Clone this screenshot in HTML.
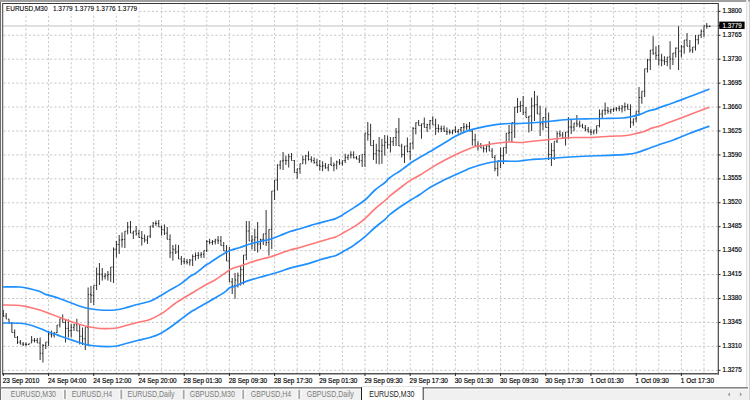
<!DOCTYPE html>
<html><head><meta charset="utf-8"><style>
html,body{margin:0;padding:0;background:#fff;overflow:hidden}
svg{display:block}
.t{font-family:"Liberation Sans",sans-serif;font-size:6.45px;fill:#000;stroke:#000;stroke-width:0.18px}
.tab{font-family:"Liberation Sans",sans-serif;font-size:8.15px;fill:#7c7c7c}
</style></head><body>
<svg width="750" height="400" viewBox="0 0 750 400">
<rect x="0" y="0" width="750" height="400" fill="#fff"/>
<path d="M3.5 11.35H718.0 M3.5 35.28H718.0 M3.5 59.21H718.0 M3.5 83.14H718.0 M3.5 107.07H718.0 M3.5 131H718.0 M3.5 154.93H718.0 M3.5 178.86H718.0 M3.5 202.79H718.0 M3.5 226.72H718.0 M3.5 250.65H718.0 M3.5 274.58H718.0 M3.5 298.51H718.0 M3.5 322.44H718.0 M3.5 346.37H718.0 M3.5 370.3H718.0" stroke="#c6c6c6" stroke-width="1" stroke-dasharray="2.1 2.14" fill="none"/>
<path d="M25.98 4V373.0 M48.58 4V373.0 M71.18 4V373.0 M93.78 4V373.0 M116.38 4V373.0 M138.98 4V373.0 M161.58 4V373.0 M184.18 4V373.0 M206.78 4V373.0 M229.38 4V373.0 M251.98 4V373.0 M274.58 4V373.0 M297.18 4V373.0 M319.78 4V373.0 M342.38 4V373.0 M364.98 4V373.0 M387.58 4V373.0 M410.18 4V373.0 M432.78 4V373.0 M455.38 4V373.0 M477.98 4V373.0 M500.58 4V373.0 M523.18 4V373.0 M545.78 4V373.0 M568.38 4V373.0 M590.98 4V373.0 M613.58 4V373.0 M636.18 4V373.0 M658.78 4V373.0 M681.38 4V373.0 M703.98 4V373.0" stroke="#c6c6c6" stroke-width="1" stroke-dasharray="2.1 2.14" stroke-dashoffset="1.05" fill="none"/>
<path d="M3.0 25.95H718.5" stroke="#d6d6d6" stroke-width="1.4" fill="none"/>
<path d="M3.38 310V317 M6.21 313V319 M9.03 319V323 M11.86 322V332.5 M14.68 329.4V337.5 M17.5 336V344 M20.33 340V344.4 M23.16 342V346 M25.98 342.5V346 M28.8 343.75V345 M31.63 336V343 M34.46 338V342.5 M37.28 338V343 M40.11 337.5V360 M42.93 344V362.5 M45.76 342V349 M48.58 331V346 M51.41 330.6V337.5 M54.23 332.5V337.5 M57.06 325V333 M59.88 318.75V327.5 M62.71 314.4V322.5 M65.53 319.4V342.5 M68.36 319.4V337.5 M71.18 323.75V337.5 M74 323.75V331 M76.83 318.75V331 M79.66 325V344.4 M82.48 327.5V345 M85.31 327.5V350 M88.13 287.5V345.6 M90.95 286V303 M93.78 285.5V305 M96.61 267.5V290 M99.43 263V285 M102.25 268V280.6 M105.08 273V279.4 M107.91 271V280.6 M110.73 267V282 M113.56 247.5V283 M116.38 241V257.5 M119.2 235V254 M122.03 232.5V247.5 M124.86 231V248 M127.68 222V234.4 M130.51 221V233 M133.33 231V239 M136.16 226V235.6 M138.98 230V237.5 M141.81 231V245.6 M144.63 234.4V242.5 M147.46 236V244 M150.28 226V238 M153.11 222V228 M155.93 220.6V226 M158.75 220V227 M161.58 225.6V235.6 M164.41 224.4V235 M167.23 227V239.4 M170.06 234.4V258 M172.88 245V260.6 M175.71 244.4V254 M178.53 245V259 M181.36 256V265 M184.18 258V264.4 M187 259V264.4 M189.83 259V265.6 M192.66 254.4V266 M195.48 252.5V260.6 M198.31 252V259 M201.13 252V258 M203.96 250.6V258 M206.78 240V252 M209.61 238.75V244.4 M212.43 240V245 M215.25 238.75V244.4 M218.08 236V244 M220.91 236V245.6 M223.73 242V251 M226.56 245V261 M229.38 247V282 M232.21 278V294 M235.03 273V298.75 M237.86 272.5V287.5 M240.68 266V285.6 M243.51 255V284.4 M246.33 221V260 M249.16 221V241 M251.98 235V249.4 M254.81 228.75V251 M257.63 222V252.5 M260.45 238.75V249.4 M263.28 233.75V245 M266.11 210V246 M268.93 229.4V255.6 M271.75 191V249 M274.58 180V200 M277.41 164.4V190.6 M280.23 160.6V169.4 M283.06 152V170 M285.88 155.6V165 M288.71 153.75V167.5 M291.53 153V160.6 M294.36 160V172.5 M297.18 168.75V178.75 M300 163.75V173.75 M302.83 155.6V163.75 M305.66 155V164.4 M308.48 151.25V160.6 M311.31 156.25V162.5 M314.13 157.5V163.75 M316.96 158.75V166.25 M319.78 160V170.6 M322.61 161.25V171.25 M325.43 163V168.75 M328.25 164.4V171.25 M331.08 156.9V165.6 M333.91 162.5V171.25 M336.73 160.6V169.4 M339.56 159V165 M342.38 160.6V165.6 M345.21 153.75V163 M348.03 155V160 M350.86 151.25V158.5 M353.68 151.25V158.5 M356.5 156V159.4 M359.33 155V163 M362.16 154.4V167 M364.98 133V167 M367.81 122V140.6 M370.63 123.75V145.6 M373.46 140V160 M376.28 143.75V163.75 M379.11 137V164.4 M381.93 138.75V163.75 M384.75 135V155.6 M387.58 135.6V148.75 M390.41 137V152.5 M393.23 137.5V146 M396.06 128V146 M398.88 118V146 M401.71 143.75V157.5 M404.53 146V163 M407.36 137.5V152.5 M410.18 143V160 M413 127V149.4 M415.83 122.5V134.4 M418.66 120V125.6 M421.48 123.75V138.75 M424.31 117.5V127.5 M427.13 123.75V132 M429.96 120V129.4 M432.78 116.25V125 M435.61 118.75V135 M438.43 124.4V132.5 M441.25 125.6V132 M444.08 125.6V132 M446.91 127.5V135 M449.73 129.4V134.4 M452.56 130V134.4 M455.38 126.25V133 M458.21 129.4V133.75 M461.03 127V132.5 M463.86 123V132 M466.68 123.75V130 M469.51 122V131.25 M472.33 130V145.6 M475.16 133.75V146 M477.98 141.25V150.6 M480.81 143V148 M483.63 145V152.5 M486.46 145V152.5 M489.28 141.25V151 M492.11 148V157.5 M494.93 155V171.25 M497.76 160.6V176.25 M500.58 147.5V168 M503.41 147.5V164 M506.23 133V153.75 M509.06 125V141.25 M511.88 122.5V142.5 M514.71 107V138 M517.53 98V113 M520.36 101V112 M523.18 96V115 M526 107V117.5 M528.83 116V132.5 M531.65 97.5V131 M534.48 91V121 M537.31 95.6V114 M540.13 105.6V136 M542.96 117.5V130 M545.78 107.5V127.5 M548.61 112.5V160 M551.43 143V166 M554.25 141.25V160 M557.08 131.25V143 M559.91 130.6V137 M562.73 132V138 M565.56 132V145.6 M568.38 117V138.75 M571.21 120V134 M574.03 123V131.25 M576.86 115V127 M579.68 120.6V127.5 M582.5 123.75V128 M585.33 125V131.25 M588.16 127V132.5 M590.98 128.75V135 M593.81 130V134.4 M596.63 125.6V133.75 M599.46 109.4V127.5 M602.28 110V118 M605.11 102.5V115 M607.93 107V113.75 M610.75 108.75V113.75 M613.58 107.5V112 M616.41 107V111.25 M619.23 105.6V111.25 M622.06 105V112.5 M624.88 102.5V111.25 M627.71 103.75V109.4 M630.53 104.4V128 M633.36 118.75V125.6 M636.18 111.25V122 M639 87V115.6 M641.83 91.25V103.75 M644.66 68.75V97 M647.48 58.75V72.5 M650.31 50V70 M653.13 36.25V55 M655.96 46.25V60 M658.78 45V65.6 M661.61 53.75V66.25 M664.43 56.25V65 M667.25 57V66.25 M670.08 41.25V69.4 M672.91 53V65 M675.73 47.5V57.5 M678.56 26.25V70 M681.38 45V57.5 M684.21 40V53.75 M687.03 33V46.25 M689.86 40V52.5 M692.68 47V53 M695.5 35V50.6 M698.33 35V44.4 M701.16 29.4V38 M703.98 25.6V37 M706.81 23V28.75 M709.63 25.6V27" stroke="#000" stroke-width="0.9" fill="none" stroke-opacity="0.9"/>
<path d="M2.38 313.5H3.38M3.38 316H4.38 M5.21 316H6.21M6.21 319H7.21 M8.03 319H9.03M9.03 323H10.03 M10.86 323H11.86M11.86 332.5H12.86 M13.68 332.5H14.68M14.68 337.5H15.68 M16.5 337.5H17.5M17.5 342.2H18.5 M19.33 342.2H20.33M20.33 344H21.33 M22.16 344H23.16M23.16 344.25H24.16 M24.98 344.25H25.98M25.98 344.38H26.98 M27.8 344.38H28.8M28.8 343.75H29.8 M30.63 343H31.63M31.63 340.25H32.63 M33.46 340.25H34.46M34.46 340.5H35.46 M36.28 340.5H37.28M37.28 343H38.28 M39.11 343H40.11M40.11 353.25H41.11 M41.93 353.25H42.93M42.93 345.5H43.93 M44.76 345.5H45.76M45.76 342H46.76 M47.58 342H48.58M48.58 334.05H49.58 M50.41 334.05H51.41M51.41 335H52.41 M53.23 335H54.23M54.23 332.5H55.23 M56.06 332.5H57.06M57.06 325H58.06 M58.88 325H59.88M59.88 318.75H60.88 M61.71 318.75H62.71M62.71 322.5H63.71 M64.53 322.5H65.53M65.53 328.45H66.53 M67.36 328.45H68.36M68.36 330.62H69.36 M70.18 330.62H71.18M71.18 327.38H72.18 M73 327.38H74M74 324.88H75 M75.83 324.88H76.83M76.83 331H77.83 M78.66 331H79.66M79.66 336.25H80.66 M81.48 336.25H82.48M82.48 338.75H83.48 M84.31 338.75H85.31M85.31 327.5H86.31 M87.13 327.5H88.13M88.13 294.5H89.13 M89.95 294.5H90.95M90.95 295.25H91.95 M92.78 295.25H93.78M93.78 285.5H94.78 M95.61 285.5H96.61M96.61 274H97.61 M98.43 274H99.43M99.43 274.3H100.43 M101.25 274.3H102.25M102.25 276.2H103.25 M104.08 276.2H105.08M105.08 275.8H106.08 M106.91 275.8H107.91M107.91 274.5H108.91 M109.73 274.5H110.73M110.73 267H111.73 M112.56 267H113.56M113.56 249.25H114.56 M115.38 249.25H116.38M116.38 244.5H117.38 M118.2 244.5H119.2M119.2 240H120.2 M121.03 240H122.03M122.03 239.5H123.03 M123.86 239.5H124.86M124.86 231H125.86 M126.68 231H127.68M127.68 227H128.68 M129.51 227H130.51M130.51 233H131.51 M132.33 233H133.33M133.33 231H134.33 M135.16 231H136.16M136.16 233.75H137.16 M137.98 233.75H138.98M138.98 237.5H139.98 M140.81 237.5H141.81M141.81 238.45H142.81 M143.63 238.45H144.63M144.63 240H145.63 M146.46 240H147.46M147.46 236H148.46 M149.28 236H150.28M150.28 226H151.28 M152.11 226H153.11M153.11 223.3H154.11 M154.93 223.3H155.93M155.93 223.5H156.93 M157.75 223.5H158.75M158.75 227H159.75 M160.58 227H161.58M161.58 229.7H162.58 M163.41 229.7H164.41M164.41 233.2H165.41 M166.23 233.2H167.23M167.23 239.4H168.23 M169.06 239.4H170.06M170.06 252.8H171.06 M171.88 252.8H172.88M172.88 249.2H173.88 M174.71 249.2H175.71M175.71 252H176.71 M177.53 252H178.53M178.53 259H179.53 M180.36 259H181.36M181.36 261.2H182.36 M183.18 261.2H184.18M184.18 261.7H185.18 M186 261.7H187M187 262.3H188 M188.83 262.3H189.83M189.83 260.2H190.83 M191.66 260.2H192.66M192.66 256.55H193.66 M194.48 256.55H195.48M195.48 255.5H196.48 M197.31 255.5H198.31M198.31 255H199.31 M200.13 255H201.13M201.13 254.3H202.13 M202.96 254.3H203.96M203.96 250.6H204.96 M205.78 250.6H206.78M206.78 241.57H207.78 M208.61 241.57H209.61M209.61 242.5H210.61 M211.43 242.5H212.43M212.43 241.57H213.43 M214.25 241.57H215.25M215.25 240H216.25 M217.08 240H218.08M218.08 240.8H219.08 M219.91 240.8H220.91M220.91 245.6H221.91 M222.73 245.6H223.73M223.73 251H224.73 M225.56 251H226.56M226.56 261H227.56 M228.38 261H229.38M229.38 282H230.38 M231.21 282H232.21M232.21 285.88H233.21 M234.03 285.88H235.03M235.03 280H236.03 M236.86 280H237.86M237.86 275.8H238.86 M239.68 275.8H240.68M240.68 269.7H241.68 M242.51 269.7H243.51M243.51 255H244.51 M245.33 255H246.33M246.33 231H247.33 M248.16 231H249.16M249.16 241H250.16 M250.98 241H251.98M251.98 239.88H252.98 M253.81 239.88H254.81M254.81 237.25H255.81 M256.63 237.25H257.63M257.63 244.07H258.63 M259.45 244.07H260.45M260.45 239.38H261.45 M262.28 239.38H263.28M263.28 233.75H264.28 M265.11 233.75H266.11M266.11 242.5H267.11 M267.93 242.5H268.93M268.93 229.4H269.93 M270.75 229.4H271.75M271.75 191H272.75 M273.58 191H274.58M274.58 180H275.58 M276.41 180H277.41M277.41 165H278.41 M279.23 165H280.23M280.23 161H281.23 M282.06 161H283.06M283.06 160.3H284.06 M284.88 160.3H285.88M285.88 160.62H286.88 M287.71 160.62H288.71M288.71 156.8H289.71 M290.53 156.8H291.53M291.53 160.6H292.53 M293.36 160.6H294.36M294.36 172.5H295.36 M296.18 172.5H297.18M297.18 168.75H298.18 M299 168.75H300M300 163.75H301 M301.83 163.75H302.83M302.83 159.7H303.83 M304.66 159.7H305.66M305.66 155.93H306.66 M307.48 155.93H308.48M308.48 159.38H309.48 M310.31 159.38H311.31M311.31 160.62H312.31 M313.13 160.62H314.13M314.13 162.5H315.13 M315.96 162.5H316.96M316.96 165.3H317.96 M318.78 165.3H319.78M319.78 166.25H320.78 M321.61 166.25H322.61M322.61 165.88H323.61 M324.43 165.88H325.43M325.43 167.82H326.43 M327.25 167.82H328.25M328.25 164.4H329.25 M330.08 164.4H331.08M331.08 165.6H332.08 M332.91 165.6H333.91M333.91 165H334.91 M335.73 165H336.73M336.73 162H337.73 M338.56 162H339.56M339.56 163.1H340.56 M341.38 163.1H342.38M342.38 160.6H343.38 M344.21 160.6H345.21M345.21 157.5H346.21 M347.03 157.5H348.03M348.03 155H349.03 M349.86 155H350.86M350.86 154.88H351.86 M352.68 154.88H353.68M353.68 157.7H354.68 M355.5 157.7H356.5M356.5 159H357.5 M358.33 159H359.33M359.33 160.7H360.33 M361.16 160.7H362.16M362.16 154.4H363.16 M363.98 154.4H364.98M364.98 133H365.98 M366.81 133H367.81M367.81 134.68H368.81 M369.63 134.68H370.63M370.63 145.6H371.63 M372.46 145.6H373.46M373.46 153.75H374.46 M375.28 153.75H376.28M376.28 150.7H377.28 M378.11 150.7H379.11M379.11 151.25H380.11 M380.93 151.25H381.93M381.93 145.3H382.93 M383.75 145.3H384.75M384.75 142.18H385.75 M386.58 142.18H387.58M387.58 144.75H388.58 M389.41 144.75H390.41M390.41 141.75H391.41 M392.23 141.75H393.23M393.23 137.5H394.23 M395.06 137.5H396.06M396.06 132H397.06 M397.88 132H398.88M398.88 146H399.88 M400.71 146H401.71M401.71 154.5H402.71 M403.53 154.5H404.53M404.53 146H405.53 M406.36 146H407.36M407.36 151.5H408.36 M409.18 151.5H410.18M410.18 143H411.18 M412 143H413M413 128.45H414 M414.83 128.45H415.83M415.83 122.8H416.83 M417.66 122.8H418.66M418.66 125.6H419.66 M420.48 125.6H421.48M421.48 123.75H422.48 M423.31 123.75H424.31M424.31 127.5H425.31 M426.13 127.5H427.13M427.13 124.7H428.13 M428.96 124.7H429.96M429.96 120.62H430.96 M431.78 120.62H432.78M432.78 125H433.78 M434.61 125H435.61M435.61 128.45H436.61 M437.43 128.45H438.43M438.43 128.8H439.43 M440.25 128.8H441.25M441.25 128.8H442.25 M443.08 128.8H444.08M444.08 131.25H445.08 M445.91 131.25H446.91M446.91 131.9H447.91 M448.73 131.9H449.73M449.73 132.2H450.73 M451.56 132.2H452.56M452.56 130H453.56 M454.38 130H455.38M455.38 131.57H456.38 M457.21 131.57H458.21M458.21 129.75H459.21 M460.03 129.75H461.03M461.03 127.5H462.03 M462.86 127.5H463.86M463.86 126.88H464.86 M465.68 126.88H466.68M466.68 126.62H467.68 M468.51 126.62H469.51M469.51 131.25H470.51 M471.33 131.25H472.33M472.33 139.88H473.33 M474.16 139.88H475.16M475.16 145.93H476.16 M476.98 145.93H477.98M477.98 145.5H478.98 M479.81 145.5H480.81M480.81 148H481.81 M482.63 148H483.63M483.63 148.75H484.63 M485.46 148.75H486.46M486.46 146.12H487.46 M488.28 146.12H489.28M489.28 151H490.28 M491.11 151H492.11M492.11 157.5H493.11 M493.93 157.5H494.93M494.93 168.43H495.93 M496.76 168.43H497.76M497.76 160.6H498.76 M499.58 160.6H500.58M500.58 155.75H501.58 M502.41 155.75H503.41M503.41 147.5H504.41 M505.23 147.5H506.23M506.23 133.12H507.23 M508.06 133.12H509.06M509.06 132.5H510.06 M510.88 132.5H511.88M511.88 122.5H512.88 M513.71 122.5H514.71M514.71 107H515.71 M516.53 107H517.53M517.53 106.5H518.53 M519.36 106.5H520.36M520.36 105.5H521.36 M522.18 105.5H523.18M523.18 112.25H524.18 M525 112.25H526M526 117.5H527 M527.83 117.5H528.83M528.83 116H529.83 M530.65 116H531.65M531.65 106H532.65 M533.48 106H534.48M534.48 104.8H535.48 M536.31 104.8H537.31M537.31 114H538.31 M539.13 114H540.13M540.13 123.75H541.13 M541.96 123.75H542.96M542.96 117.5H543.96 M544.78 117.5H545.78M545.78 127.5H546.78 M547.61 127.5H548.61M548.61 154.5H549.61 M550.43 154.5H551.43M551.43 150.62H552.43 M553.25 150.62H554.25M554.25 141.25H555.25 M556.08 141.25H557.08M557.08 133.8H558.08 M558.91 133.8H559.91M559.91 135H560.91 M561.73 135H562.73M562.73 138H563.73 M564.56 138H565.56M565.56 132H566.56 M567.38 132H568.38M568.38 127H569.38 M570.21 127H571.21M571.21 127.12H572.21 M573.03 127.12H574.03M574.03 123H575.03 M575.86 123H576.86M576.86 124.05H577.86 M578.68 124.05H579.68M579.68 125.88H580.68 M581.5 125.88H582.5M582.5 128H583.5 M584.33 128H585.33M585.33 129.75H586.33 M587.16 129.75H588.16M588.16 131.88H589.16 M589.98 131.88H590.98M590.98 132.2H591.98 M592.81 132.2H593.81M593.81 130H594.81 M595.63 130H596.63M596.63 125.6H597.63 M598.46 125.6H599.46M599.46 114H600.46 M601.28 114H602.28M602.28 110H603.28 M604.11 110H605.11M605.11 110.38H606.11 M606.93 110.38H607.93M607.93 111.25H608.93 M609.75 111.25H610.75M610.75 109.75H611.75 M612.58 109.75H613.58M613.58 109.12H614.58 M615.41 109.12H616.41M616.41 108.42H617.41 M618.23 108.42H619.23M619.23 108.75H620.23 M621.06 108.75H622.06M622.06 106.88H623.06 M623.88 106.88H624.88M624.88 106.58H625.88 M626.71 106.58H627.71M627.71 109.4H628.71 M629.53 109.4H630.53M630.53 122.17H631.53 M632.36 122.17H633.36M633.36 118.75H634.36 M635.18 118.75H636.18M636.18 111.25H637.18 M638 111.25H639M639 97.5H640 M640.83 97.5H641.83M641.83 91.25H642.83 M643.66 91.25H644.66M644.66 68.75H645.66 M646.48 68.75H647.48M647.48 60H648.48 M649.31 60H650.31M650.31 50H651.31 M652.13 50H653.13M653.13 53.12H654.13 M654.96 53.12H655.96M655.96 55.3H656.96 M657.78 55.3H658.78M658.78 60H659.78 M660.61 60H661.61M661.61 60.62H662.61 M663.43 60.62H664.43M664.43 61.62H665.43 M666.25 61.62H667.25M667.25 57H668.25 M669.08 57H670.08M670.08 59H671.08 M671.91 59H672.91M672.91 53H673.91 M674.73 53H675.73M675.73 48.12H676.73 M677.56 48.12H678.56M678.56 51.25H679.56 M680.38 51.25H681.38M681.38 46.88H682.38 M683.21 46.88H684.21M684.21 40H685.21 M686.03 40H687.03M687.03 46.25H688.03 M688.86 46.25H689.86M689.86 50H690.86 M691.68 50H692.68M692.68 47H693.68 M694.5 47H695.5M695.5 39.7H696.5 M697.33 39.7H698.33M698.33 35H699.33 M700.16 35H701.16M701.16 31.3H702.16 M702.98 31.3H703.98M703.98 25.88H704.98 M705.81 25.88H706.81M706.81 26.3H707.81 M708.63 26.3H709.63M709.63 26.3H710.63" stroke="#000" stroke-width="0.9" fill="none" stroke-opacity="0.8"/>
<path d="M3 287 C5.83 287 15.5 286.71 20 287 C24.5 287.29 26.67 288 30 288.75 C33.33 289.5 37.5 290.59 40 291.5 C42.5 292.41 43.33 293.52 45 294.2 C46.67 294.88 47.5 294.84 50 295.6 C52.5 296.36 56.67 297.6 60 298.75 C63.33 299.9 66.67 301.25 70 302.5 C73.33 303.75 76.67 305.21 80 306.25 C83.33 307.29 86.67 308.12 90 308.75 C93.33 309.38 95.83 309.79 100 310 C104.17 310.21 110.83 310.33 115 310 C119.17 309.67 121.67 308.83 125 308 C128.33 307.17 130.83 306.12 135 305 C139.17 303.88 145.83 302.75 150 301.25 C154.17 299.75 156.67 297.88 160 296 C163.33 294.12 166.67 291.93 170 290 C173.33 288.07 177.5 285.98 180 284.4 C182.5 282.82 183.33 281.82 185 280.5 C186.67 279.18 188.33 277.62 190 276.5 C191.67 275.38 193.33 274.83 195 273.75 C196.67 272.67 198.17 271.46 200 270 C201.83 268.54 204.33 266.21 206 265 C207.67 263.79 207.67 264.25 210 262.75 C212.33 261.25 216.67 258.04 220 256 C223.33 253.96 226.67 251.92 230 250.5 C233.33 249.08 236.67 248.58 240 247.5 C243.33 246.42 246.67 245 250 244 C253.33 243 256.67 242.3 260 241.5 C263.33 240.7 266.67 240.2 270 239.2 C273.33 238.2 276.67 236.78 280 235.5 C283.33 234.22 286.67 232.62 290 231.5 C293.33 230.38 296.67 229.73 300 228.75 C303.33 227.77 306.67 226.57 310 225.6 C313.33 224.62 316.67 223.8 320 222.9 C323.33 222 327.5 220.87 330 220.2 C332.5 219.53 333.33 219.53 335 218.9 C336.67 218.27 338.33 217.33 340 216.4 C341.67 215.47 342.92 214.6 345 213.3 C347.08 212 350.83 209.67 352.5 208.6 C354.17 207.53 352.92 208.33 355 206.9 C357.08 205.47 361.67 202.82 365 200 C368.33 197.18 371.67 192.92 375 190 C378.33 187.08 382.5 184.58 385 182.5 C387.5 180.42 387.5 179.42 390 177.5 C392.5 175.58 397.5 172.7 400 171 C402.5 169.3 402.92 168.83 405 167.3 C407.08 165.77 410 163.48 412.5 161.8 C415 160.12 417.92 158.43 420 157.2 C422.08 155.97 423.33 155.33 425 154.4 C426.67 153.47 428.33 152.57 430 151.6 C431.67 150.63 432.5 150.1 435 148.6 C437.5 147.1 441.67 144.62 445 142.6 C448.33 140.58 451.67 138.28 455 136.5 C458.33 134.72 462.08 133.08 465 131.9 C467.92 130.72 470 130.12 472.5 129.4 C475 128.68 477.08 128.23 480 127.6 C482.92 126.97 486.67 126.18 490 125.6 C493.33 125.02 496.67 124.45 500 124.1 C503.33 123.75 506.67 123.6 510 123.5 C513.33 123.4 515 123.71 520 123.5 C525 123.29 534.58 122.67 540 122.25 C545.42 121.83 548.33 121.42 552.5 121 C556.67 120.58 560.83 120.08 565 119.75 C569.17 119.42 573.33 119.17 577.5 119 C581.67 118.83 585.42 118.83 590 118.75 C594.58 118.67 599.58 118.62 605 118.5 C610.42 118.38 618.33 118.25 622.5 118 C626.67 117.75 627.08 117.6 630 117 C632.92 116.4 637.08 115.36 640 114.4 C642.92 113.44 645 112.08 647.5 111.25 C650 110.42 652.92 110.04 655 109.4 C657.08 108.76 656.67 108.6 660 107.4 C663.33 106.2 670 104.02 675 102.2 C680 100.38 685 98.4 690 96.5 C695 94.6 701.75 92.05 705 90.8 C708.25 89.55 708.75 89.3 709.5 89" stroke="#1e90ff" stroke-width="1.7" fill="none" stroke-linejoin="round"/>
<path d="M3 323 C5.83 323.04 15.5 322.92 20 323.25 C24.5 323.58 26.67 324.12 30 325 C33.33 325.88 36.67 327.25 40 328.5 C43.33 329.75 47.5 331.58 50 332.5 C52.5 333.42 53.33 333.42 55 334 C56.67 334.58 57.5 335.08 60 336 C62.5 336.92 66.67 338.37 70 339.5 C73.33 340.63 77.5 342 80 342.8 C82.5 343.6 83.33 343.88 85 344.3 C86.67 344.72 87.5 344.95 90 345.3 C92.5 345.65 95.83 346.24 100 346.4 C104.17 346.56 110.83 346.69 115 346.25 C119.17 345.81 121.25 344.71 125 343.75 C128.75 342.79 133.33 341.54 137.5 340.5 C141.67 339.46 146.25 338.62 150 337.5 C153.75 336.38 156.67 335.42 160 333.75 C163.33 332.08 166.67 329.79 170 327.5 C173.33 325.21 176.67 322.5 180 320 C183.33 317.5 187.5 314.27 190 312.5 C192.5 310.73 192.5 310.86 195 309.4 C197.5 307.94 201.67 305.63 205 303.75 C208.33 301.87 211.67 300.08 215 298.1 C218.33 296.12 222.5 293.67 225 291.9 C227.5 290.13 228.33 288.44 230 287.5 C231.67 286.56 232.5 287.18 235 286.25 C237.5 285.32 240.83 283.39 245 281.9 C249.17 280.41 255.83 278.53 260 277.3 C264.17 276.07 266.67 275.47 270 274.5 C273.33 273.53 276.67 272.57 280 271.5 C283.33 270.43 286.67 269.08 290 268.1 C293.33 267.12 296.67 266.43 300 265.6 C303.33 264.77 306.67 264.08 310 263.1 C313.33 262.12 316.67 260.7 320 259.7 C323.33 258.7 327.33 257.8 330 257.1 C332.67 256.4 334.33 256.12 336 255.5 C337.67 254.88 338.5 254.23 340 253.4 C341.5 252.57 342.92 251.7 345 250.5 C347.08 249.3 350.83 247.22 352.5 246.2 C354.17 245.18 352.92 246 355 244.4 C357.08 242.8 361.67 239.42 365 236.6 C368.33 233.78 371.67 230.37 375 227.5 C378.33 224.63 382.5 221.58 385 219.4 C387.5 217.22 387.5 216.47 390 214.4 C392.5 212.33 396.67 209.32 400 207 C403.33 204.68 406.67 202.58 410 200.5 C413.33 198.42 417.5 196.1 420 194.5 C422.5 192.9 423.33 192.05 425 190.9 C426.67 189.75 428.33 188.62 430 187.6 C431.67 186.58 432.5 186.13 435 184.8 C437.5 183.47 441.67 181.23 445 179.6 C448.33 177.97 451.67 176.5 455 175 C458.33 173.5 462.5 171.73 465 170.6 C467.5 169.47 467.5 169.13 470 168.2 C472.5 167.27 476.67 165.95 480 165 C483.33 164.05 486.67 163.12 490 162.5 C493.33 161.88 496.67 161.46 500 161.25 C503.33 161.04 506.67 161.29 510 161.25 C513.33 161.21 516.67 161.25 520 161 C523.33 160.75 525.83 160.12 530 159.75 C534.17 159.38 538.33 159.21 545 158.75 C551.67 158.29 562.5 157.46 570 157 C577.5 156.54 583.33 156.28 590 156 C596.67 155.72 604 155.57 610 155.3 C616 155.03 621.55 154.83 626 154.4 C630.45 153.97 632.7 153.77 636.7 152.7 C640.7 151.63 645.57 149.57 650 148 C654.43 146.43 659.38 144.63 663.3 143.3 C667.22 141.97 669.05 141.68 673.5 140 C677.95 138.32 684.75 135.3 690 133.25 C695.25 131.2 701.75 128.88 705 127.7 C708.25 126.53 708.75 126.45 709.5 126.2" stroke="#1e90ff" stroke-width="1.7" fill="none" stroke-linejoin="round"/>
<path d="M3 305 C5.83 305.08 15.5 305.08 20 305.5 C24.5 305.92 26.67 306.75 30 307.5 C33.33 308.25 36.67 308.96 40 310 C43.33 311.04 46.67 312.5 50 313.75 C53.33 315 56.67 316.25 60 317.5 C63.33 318.75 66.67 320.08 70 321.25 C73.33 322.42 76.67 323.54 80 324.5 C83.33 325.46 86.67 326.33 90 327 C93.33 327.67 95.83 328.29 100 328.5 C104.17 328.71 110.83 328.71 115 328.25 C119.17 327.79 121.25 326.71 125 325.75 C128.75 324.79 133.33 323.54 137.5 322.5 C141.67 321.46 146.25 320.83 150 319.5 C153.75 318.17 157.08 316.18 160 314.5 C162.92 312.82 165 311.23 167.5 309.4 C170 307.57 172.08 305.52 175 303.5 C177.92 301.48 181.67 299.29 185 297.25 C188.33 295.21 191.67 293.24 195 291.25 C198.33 289.26 201.67 287.18 205 285.3 C208.33 283.43 211.67 282.03 215 280 C218.33 277.97 222.5 274.83 225 273.1 C227.5 271.37 228.33 270.53 230 269.6 C231.67 268.67 232.5 268.35 235 267.5 C237.5 266.65 242.5 265.33 245 264.5 C247.5 263.67 247.5 263.33 250 262.5 C252.5 261.67 256.67 260.42 260 259.5 C263.33 258.58 266.67 258 270 257 C273.33 256 276.67 254.67 280 253.5 C283.33 252.33 286.67 251 290 250 C293.33 249 296.67 248.43 300 247.5 C303.33 246.57 306.67 245.38 310 244.4 C313.33 243.42 316.67 242.57 320 241.6 C323.33 240.63 327.5 239.33 330 238.6 C332.5 237.87 333.33 237.82 335 237.2 C336.67 236.58 338.33 235.8 340 234.9 C341.67 234 342.5 233.25 345 231.8 C347.5 230.35 351.67 228.4 355 226.2 C358.33 224 361.67 221.5 365 218.6 C368.33 215.7 371.67 211.82 375 208.8 C378.33 205.78 382.5 202.65 385 200.5 C387.5 198.35 387.5 197.98 390 195.9 C392.5 193.82 396.67 190.55 400 188 C403.33 185.45 406.67 182.77 410 180.6 C413.33 178.43 417.5 176.45 420 175 C422.5 173.55 422.5 173.47 425 171.9 C427.5 170.33 431.67 167.58 435 165.6 C438.33 163.62 441.67 161.77 445 160 C448.33 158.23 451.67 156.57 455 155 C458.33 153.43 461.67 152 465 150.6 C468.33 149.2 472.5 147.37 475 146.6 C477.5 145.83 477.5 146.4 480 146 C482.5 145.6 486.67 144.75 490 144.2 C493.33 143.65 496.67 143.07 500 142.7 C503.33 142.33 506.67 142.03 510 142 C513.33 141.97 516.67 142.58 520 142.5 C523.33 142.42 525.83 141.92 530 141.5 C534.17 141.08 539.17 140.58 545 140 C550.83 139.42 560 138.42 565 138 C570 137.58 570.83 137.58 575 137.5 C579.17 137.42 584.17 137.7 590 137.5 C595.83 137.3 604 136.63 610 136.3 C616 135.97 621.55 136 626 135.5 C630.45 135 633.53 134.01 636.7 133.3 C639.87 132.59 642.78 132.02 645 131.25 C647.22 130.48 648.33 129.37 650 128.7 C651.67 128.03 652.78 127.92 655 127.25 C657.22 126.58 659.97 125.88 663.3 124.7 C666.63 123.53 670.55 121.9 675 120.2 C679.45 118.5 685 116.4 690 114.5 C695 112.6 701.75 110 705 108.8 C708.25 107.6 708.75 107.55 709.5 107.3" stroke="#ff7878" stroke-width="1.6" fill="none" stroke-linejoin="round"/>
<path d="M2 3.5H718.9" stroke="#383838" stroke-width="1" fill="none"/>
<path d="M2.6 3V374.4" stroke="#666" stroke-width="1.3" fill="none"/>
<path d="M718.35 3V374.4" stroke="#555" stroke-width="1.3" fill="none"/>
<path d="M2 373.7H719" stroke="#555" stroke-width="1.4" fill="none"/>
<text transform="translate(722.6 12.95) scale(0.965 1)" class="t">1.3800</text>
<text transform="translate(722.6 36.88) scale(0.965 1)" class="t">1.3765</text>
<text transform="translate(722.6 60.81) scale(0.965 1)" class="t">1.3730</text>
<text transform="translate(722.6 84.74) scale(0.965 1)" class="t">1.3695</text>
<text transform="translate(722.6 108.67) scale(0.965 1)" class="t">1.3660</text>
<text transform="translate(722.6 132.6) scale(0.965 1)" class="t">1.3625</text>
<text transform="translate(722.6 156.53) scale(0.965 1)" class="t">1.3590</text>
<text transform="translate(722.6 180.46) scale(0.965 1)" class="t">1.3555</text>
<text transform="translate(722.6 204.39) scale(0.965 1)" class="t">1.3520</text>
<text transform="translate(722.6 228.32) scale(0.965 1)" class="t">1.3485</text>
<text transform="translate(722.6 252.25) scale(0.965 1)" class="t">1.3450</text>
<text transform="translate(722.6 276.18) scale(0.965 1)" class="t">1.3415</text>
<text transform="translate(722.6 300.11) scale(0.965 1)" class="t">1.3380</text>
<text transform="translate(722.6 324.04) scale(0.965 1)" class="t">1.3345</text>
<text transform="translate(722.6 347.97) scale(0.965 1)" class="t">1.3310</text>
<text transform="translate(722.6 371.9) scale(0.965 1)" class="t">1.3275</text>
<text transform="translate(2.78 383.1) scale(0.9 1)" class="t" style="font-size:7.15px">23 Sep 2010</text>
<text transform="translate(47.98 383.1) scale(0.9 1)" class="t" style="font-size:7.15px">24 Sep 04:00</text>
<text transform="translate(93.18 383.1) scale(0.9 1)" class="t" style="font-size:7.15px">24 Sep 12:00</text>
<text transform="translate(138.38 383.1) scale(0.9 1)" class="t" style="font-size:7.15px">24 Sep 20:00</text>
<text transform="translate(183.58 383.1) scale(0.9 1)" class="t" style="font-size:7.15px">28 Sep 01:30</text>
<text transform="translate(228.78 383.1) scale(0.9 1)" class="t" style="font-size:7.15px">28 Sep 09:30</text>
<text transform="translate(273.98 383.1) scale(0.9 1)" class="t" style="font-size:7.15px">28 Sep 17:30</text>
<text transform="translate(319.18 383.1) scale(0.9 1)" class="t" style="font-size:7.15px">29 Sep 01:30</text>
<text transform="translate(364.38 383.1) scale(0.9 1)" class="t" style="font-size:7.15px">29 Sep 09:30</text>
<text transform="translate(409.58 383.1) scale(0.9 1)" class="t" style="font-size:7.15px">29 Sep 17:30</text>
<text transform="translate(454.78 383.1) scale(0.9 1)" class="t" style="font-size:7.15px">30 Sep 01:30</text>
<text transform="translate(499.98 383.1) scale(0.9 1)" class="t" style="font-size:7.15px">30 Sep 09:30</text>
<text transform="translate(545.18 383.1) scale(0.9 1)" class="t" style="font-size:7.15px">30 Sep 17:30</text>
<text transform="translate(590.38 383.1) scale(0.9 1)" class="t" style="font-size:7.15px">1 Oct 01:30</text>
<text transform="translate(635.58 383.1) scale(0.9 1)" class="t" style="font-size:7.15px">1 Oct 09:30</text>
<text transform="translate(680.78 383.1) scale(0.9 1)" class="t" style="font-size:7.15px">1 Oct 17:30</text>
<path d="M718.5 11.35H720.5 M718.5 35.28H720.5 M718.5 59.21H720.5 M718.5 83.14H720.5 M718.5 107.07H720.5 M718.5 131H720.5 M718.5 154.93H720.5 M718.5 178.86H720.5 M718.5 202.79H720.5 M718.5 226.72H720.5 M718.5 250.65H720.5 M718.5 274.58H720.5 M718.5 298.51H720.5 M718.5 322.44H720.5 M718.5 346.37H720.5 M718.5 370.3H720.5 M3.38 373.5V376.0 M48.58 373.5V376.0 M93.78 373.5V376.0 M138.98 373.5V376.0 M184.18 373.5V376.0 M229.38 373.5V376.0 M274.58 373.5V376.0 M319.78 373.5V376.0 M364.98 373.5V376.0 M410.18 373.5V376.0 M455.38 373.5V376.0 M500.58 373.5V376.0 M545.78 373.5V376.0 M590.98 373.5V376.0 M636.18 373.5V376.0 M681.38 373.5V376.0" stroke="#222" stroke-width="1" fill="none"/>
<rect x="719.3" y="21.6" width="25.3" height="7.4" fill="#000"/>
<path d="M718.5 25.8l1.5 -1.5v3z" fill="#000"/>
<text transform="translate(722.6 28.1) scale(0.965 1)" class="t" style="fill:#fff;stroke:#fff;stroke-width:0.1px">1.3779</text>
<rect x="4.6" y="4" width="134.2" height="9" fill="#fff"/>
<text transform="translate(6 11.45) scale(0.91 1)" class="t" style="font-size:7.1px;stroke-width:0.1px">EURUSD,M30</text>
<text transform="translate(53 11.45) scale(0.91 1)" class="t" style="font-size:7.1px;stroke-width:0.1px">1.3779 1.3779 1.3776 1.3779</text>
<rect x="0" y="0" width="746" height="2" fill="#a0a0a0"/>
<rect x="0" y="2" width="1" height="398" fill="#6e6e6e"/>
<rect x="746" y="0" width="1" height="388" fill="#e2e2e2"/>
<rect x="747" y="0" width="2" height="400" fill="#f5f5f5"/>
<rect x="749" y="0" width="1" height="400" fill="#d0d0d0"/>
<rect x="748" y="0" width="2" height="1.5" fill="#a0a0a0"/>
<rect x="0" y="387" width="748" height="1.9" fill="#878787"/>
<rect x="0" y="388.8" width="748" height="11.2" fill="#f0f0f0"/>
<rect x="0" y="388.8" width="748" height="0.8" fill="#fff"/>
<rect x="361.5" y="386.2" width="61.2" height="13.8" fill="#fff"/>
<rect x="361" y="387.2" width="1" height="12.8" fill="#222"/>
<rect x="422.7" y="387.4" width="1" height="12.6" fill="#383838"/>
<rect x="362" y="386" width="60.5" height="0.6" fill="#d0d0d0"/>
<text transform="translate(10.8 396.8) scale(0.86 1)" class="tab">EURUSD,M30</text>
<text transform="translate(71.7 396.8) scale(0.86 1)" class="tab">EURUSD,H4</text>
<text transform="translate(127.5 396.8) scale(0.86 1)" class="tab">EURUSD,Daily</text>
<text transform="translate(189.7 396.8) scale(0.86 1)" class="tab">GBPUSD,M30</text>
<text transform="translate(250.8 396.8) scale(0.86 1)" class="tab">GBPUSD,H4</text>
<text transform="translate(306.7 396.8) scale(0.86 1)" class="tab">GBPUSD,Daily</text>
<rect x="62.9" y="389.9" width="4.2" height="9" fill="#fcfcfc"/>
<rect x="64.1" y="389.9" width="1.8" height="9" fill="#a6a6a6"/>
<rect x="119.2" y="389.9" width="4.2" height="9" fill="#fcfcfc"/>
<rect x="120.4" y="389.9" width="1.8" height="9" fill="#a6a6a6"/>
<rect x="181.6" y="389.9" width="4.2" height="9" fill="#fcfcfc"/>
<rect x="182.8" y="389.9" width="1.8" height="9" fill="#a6a6a6"/>
<rect x="241.1" y="389.9" width="4.2" height="9" fill="#fcfcfc"/>
<rect x="242.3" y="389.9" width="1.8" height="9" fill="#a6a6a6"/>
<rect x="297.1" y="389.9" width="4.2" height="9" fill="#fcfcfc"/>
<rect x="298.3" y="389.9" width="1.8" height="9" fill="#a6a6a6"/>
<text transform="translate(369.3 396.8) scale(0.86 1)" class="tab" style="fill:#1a1a1a">EURUSD,M30</text>
<rect x="0" y="388" width="1" height="12" fill="#6e6e6e"/>
<rect x="1" y="389.6" width="1" height="10.4" fill="#fafafa"/>
<path d="M730 392.2v4.4l-2.3 -2.2z" fill="#a0a0a0"/>
<path d="M739.8 392.2v4.4l2.3 -2.2z" fill="#a0a0a0"/>
</svg>
</body></html>
